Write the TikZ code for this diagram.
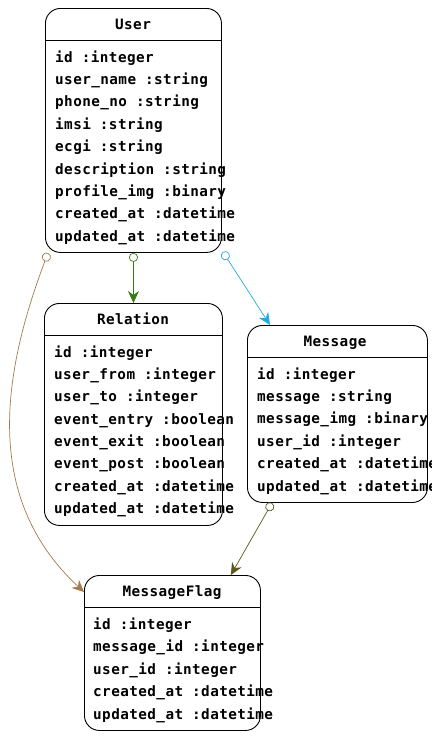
\documentclass[tikz,border=0pt]{standalone}
\usepackage{fontspec}
\newfontfamily\erfont[LetterSpace=3]{DejaVu Sans Mono Bold}
\usetikzlibrary{arrows.meta,calc}
\definecolor{cbrown}{HTML}{A37A4C}
\definecolor{cgreen}{HTML}{3A7A14}
\definecolor{ccyan}{HTML}{1EAEDB}
\definecolor{colive}{HTML}{5A581C}
\begin{document}
\begin{tikzpicture}[x=1pt,y=-1pt,
  box/.style={draw=black,line width=0.9pt,rounded corners=15pt,anchor=north west,inner sep=0pt},
  ttl/.style={anchor=base,font=\erfont\fontsize{14.3}{15}\selectfont,inner sep=0pt},
  row/.style={anchor=base west,font=\erfont\fontsize{14.3}{15}\selectfont,inner sep=0pt},
  rel/.style={line width=0.7pt,{Circle[open,fill=white,length=9pt,width=9pt]}-{Stealth[length=12pt,width=11pt,inset=4pt]}}
]
\useasboundingbox (0,0) rectangle (431,736);
% User
\node[box,minimum width=176pt,minimum height=244pt] (user) at (45,8) {};
\node[ttl] (usert) at (133,29) {User};
\draw[line width=0.9pt] ($(user.north west)+(0,32)$) -- ($(user.north east)+(0,32)$);
\foreach \t [count=\i from 0] in {id :integer,user\_name :string,phone\_no :string,imsi :string,ecgi :string,description :string,profile\_img :binary,created\_at :datetime,updated\_at :datetime}
  \node[row] (ur\i) at (55,62+22.4*\i) {\t};
% Relation
\node[box,minimum width=178pt,minimum height=222pt] (relation) at (44,303) {};
\node[ttl] (relt) at (133,324) {Relation};
\draw[line width=0.9pt] ($(relation.north west)+(0,32)$) -- ($(relation.north east)+(0,32)$);
\foreach \t [count=\i from 0] in {id :integer,user\_from :integer,user\_to :integer,event\_entry :boolean,event\_exit :boolean,event\_post :boolean,created\_at :datetime,updated\_at :datetime}
  \node[row] (rr\i) at (54,357+22.35*\i) {\t};
% Message
\node[box,minimum width=180pt,minimum height=177pt] (message) at (247,325) {};
\node[ttl] (msgt) at (335,346) {Message};
\draw[line width=0.9pt] ($(message.north west)+(0,32)$) -- ($(message.north east)+(0,32)$);
\foreach \t [count=\i from 0] in {id :integer,message :string,message\_img :binary,user\_id :integer,created\_at :datetime,updated\_at :datetime}
  \node[row] (mr\i) at (257,379+22.4*\i) {\t};
% MessageFlag
\node[box,minimum width=176pt,minimum height=155pt] (flag) at (84,575) {};
\node[ttl] (flagt) at (172,596) {MessageFlag};
\draw[line width=0.9pt] ($(flag.north west)+(0,32)$) -- ($(flag.north east)+(0,32)$);
\foreach \t [count=\i from 0] in {id :integer,message\_id :integer,user\_id :integer,created\_at :datetime,updated\_at :datetime}
  \node[row] (fr\i) at (93,629+22.5*\i) {\t};
% connectors
\coordinate (bs) at ($(user.south west)+(3,0)$);
\coordinate (be) at ($(flag.north west)+(0,17)$);
\draw[rel,draw=cbrown] (bs) .. controls (0,380) and (-15,500) .. (be);
\draw[rel,draw=cgreen] (relation.north |- user.south) -- (relation.north);
\coordinate (cs) at ($(user.south east)+(1,-1)$);
\coordinate (ce) at ($(message.north west)+(23,0)$);
\draw[rel,draw=ccyan] (cs) -- (ce);
\coordinate (os) at ($(message.south west)+(25,0)$);
\coordinate (oe) at ($(flag.north east)+(-30,0)$);
\draw[rel,draw=colive] (os) -- (oe);
\end{tikzpicture}
\end{document}
